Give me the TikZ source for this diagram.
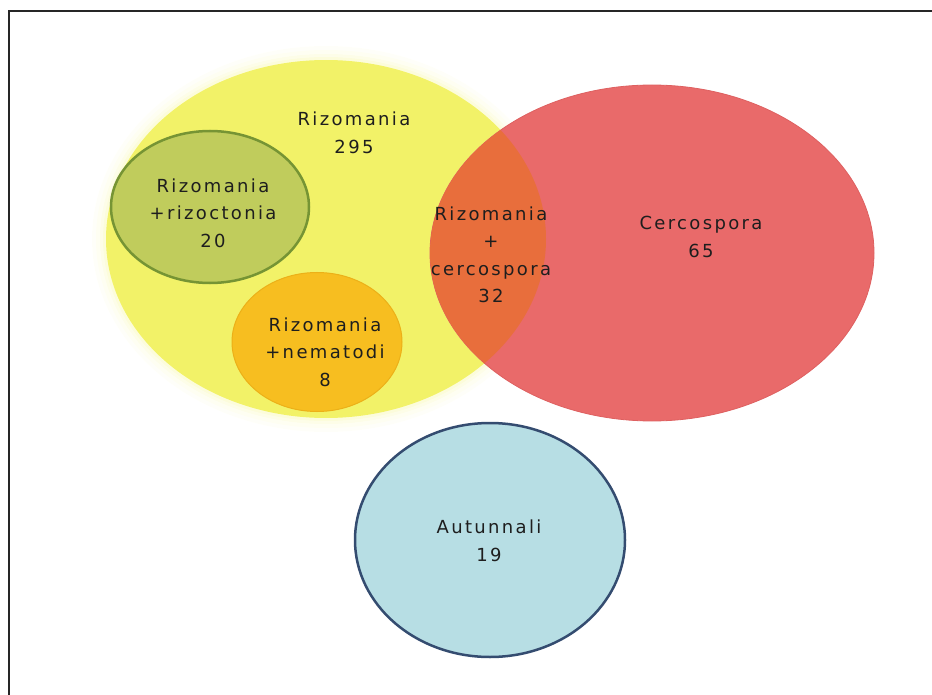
\documentclass[tikz,border=0pt]{standalone}
\usepackage{fontspec}
\usetikzlibrary{shapes.geometric}
\newfontfamily\lblfont{DejaVu Sans}[LetterSpace=13]
\definecolor{yel}{RGB}{242,242,104}
\definecolor{grn}{RGB}{192,204,92}
\definecolor{grnb}{RGB}{118,148,52}
\definecolor{org}{RGB}{247,190,32}
\definecolor{orgb}{RGB}{236,176,24}
\definecolor{redc}{RGB}{233,106,106}
\definecolor{redb}{RGB}{222,96,96}
\definecolor{ovl}{RGB}{232,110,60}
\definecolor{blu}{RGB}{183,222,228}
\definecolor{blub}{RGB}{52,76,112}
\definecolor{txt}{RGB}{30,30,30}
\begin{document}
\begin{tikzpicture}[x=1pt,y=-1pt,
  venn/.style={ellipse, inner sep=0pt, outer sep=0pt},
  lbl/.style={align=center, font=\lblfont\fontsize{18}{27.5}\selectfont, text=txt, inner sep=0pt}]
\useasboundingbox (0,0) rectangle (932,695);
% frame (top and left edges visible)
\draw[line width=2pt, black!85] (9,695) -- (9,11) -- (932,11);
% soft glow of the large yellow set
\foreach \r/\o in {14/0.04, 10/0.05, 6/0.07, 3/0.10}
  \fill[yel, opacity=\o] (326,239) ellipse [x radius=220pt+\r pt, y radius=179pt+\r pt];
\node[venn, fill=yel, minimum width=440, minimum height=358] (riz) at (326,239) {};
\node[venn, fill=grn, draw=grnb, line width=2.5pt, minimum width=198, minimum height=152] (rzc) at (210,207) {};
\node[venn, fill=org, draw=orgb, line width=1pt, minimum width=170, minimum height=139] (nem) at (317,342) {};
\node[venn, fill=redc, draw=redb, line width=0.8pt, minimum width=444, minimum height=336] (cer) at (652,253) {};
\begin{scope}
  \clip (326,239) ellipse [x radius=220pt, y radius=179pt];
  \fill[ovl] (652,253) ellipse [x radius=222pt, y radius=168pt];
\end{scope}
\node[venn, fill=blu, draw=blub, line width=2.5pt, minimum width=270, minimum height=234] (aut) at (490,540) {};
% labels
\node[lbl] (triz) at (354,133) {Rizomania\\295};
\node[lbl] (trzc) at (213,213) {Rizomania\\+rizoctonia\\20};
\node[lbl] (tnem) at (325,352) {Rizomania\\+nematodi\\8};
\node[lbl] (tovl) at (491,255) {Rizomania\\+\\cercospora\\32};
\node[lbl] (tcer) at (701,237) {Cercospora\\65};
\node[lbl] (taut) at (489,541) {Autunnali\\19};
\end{tikzpicture}
\end{document}
